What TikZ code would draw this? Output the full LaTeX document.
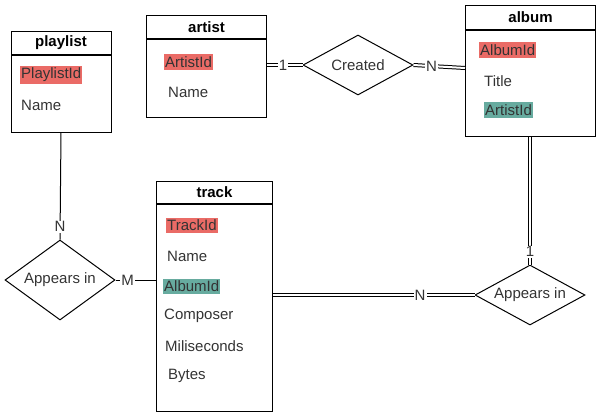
\documentclass[tikz,border=0pt]{standalone}
\usepackage{fontspec}
\setmainfont{Liberation Sans}
\usetikzlibrary{shapes.geometric}
\definecolor{keyred}{HTML}{EA6B66}
\definecolor{keyteal}{HTML}{67AB9F}
\definecolor{ink}{HTML}{333333}
\tikzset{
  every node/.style={font=\fontsize{15}{18}\selectfont},
  head/.style={draw, line width=1pt, inner sep=0pt, anchor=north west,
    font=\fontsize{15}{18}\selectfont\bfseries},
  body/.style={draw, line width=1pt, inner sep=0pt, anchor=north},
  field/.style={anchor=west, inner xsep=1pt, inner ysep=2pt, text=ink},
  rel/.style={draw, diamond, line width=1pt, inner sep=0pt, text=ink},
  lbl/.style={fill=white, inner sep=1pt, text=ink},
  link/.style={line width=1pt},
  dlink/.style={line width=1pt, double, double distance=2pt}
}

\begin{document}
\begin{tikzpicture}[x=1pt, y=-1pt]
  \useasboundingbox (0,0) rectangle (601,416);

  \node[head, minimum width=100pt, minimum height=23pt] (playlist) at (10.5,30.5) {playlist};
  \node[body, minimum width=100pt, minimum height=77pt] (playlistb) at (playlist.south) {};
  \node[field, fill=keyred] (playlistid) at (20,75) {PlaylistId};
  \node[field] (playlistname) at (20,105) {Name};

  \node[head, minimum width=120pt, minimum height=23pt] (artist) at (146,15) {artist};
  \node[body, minimum width=120pt, minimum height=78pt] (artistb) at (artist.south) {};
  \node[field, fill=keyred] (artistid) at (164,62) {ArtistId};
  \node[field] (artistname) at (167,92) {Name};

  \node[head, minimum width=130pt, minimum height=24pt] (album) at (465,5) {album};
  \node[body, minimum width=130pt, minimum height=106pt] (albumb) at (album.south) {};
  \node[field, fill=keyred] (albumid) at (479,50) {AlbumId};
  \node[field] (albumtitle) at (483,81) {Title};
  \node[field, fill=keyteal] (albumartist) at (484,110) {ArtistId};

  \node[head, minimum width=116pt, minimum height=22pt] (track) at (156,181) {track};
  \node[body, minimum width=116pt, minimum height=207pt] (trackb) at (track.south) {};
  \node[field, fill=keyred] (trackid) at (166,225) {TrackId};
  \node[field] (trackname) at (166,256) {Name};
  \node[field, fill=keyteal] (trackalbum) at (163,286) {AlbumId};
  \node[field] (trackcomposer) at (163,316) {Composer};
  \node[field] (trackms) at (164,346) {Miliseconds};
  \node[field] (trackbytes) at (167,376) {Bytes};

  \node[rel, aspect=1.83, minimum width=110pt, minimum height=60pt] (created) at (358,65) {Created};
  \node[rel, aspect=1.375, minimum width=110pt, minimum height=80pt] (inplaylist) at (60,280) {Appears in};
  \node[rel, aspect=1.83, minimum width=110pt, minimum height=60pt] (inalbum) at (530,295) {Appears in};

  \coordinate (albumin) at (465,68);

  \draw[dlink] (artistb.east |- created) -- (created.west) node[lbl, pos=0.45] {1};
  \draw[dlink] (created.east) -- (albumin) node[lbl, pos=0.35] {N};
  \draw[link] (playlistb.south) -- (inplaylist.north) node[lbl, pos=0.88] {N};
  \draw[link] (inplaylist.east) -- (trackb.west |- inplaylist) node[lbl, pos=0.3] {M};
  \draw[dlink] (albumb.south -| inalbum) -- (inalbum.north) node[lbl, pos=0.9] {1};
  \draw[dlink] (trackb.east |- inalbum) -- (inalbum.west) node[lbl, pos=0.73] {N};
\end{tikzpicture}
\end{document}
